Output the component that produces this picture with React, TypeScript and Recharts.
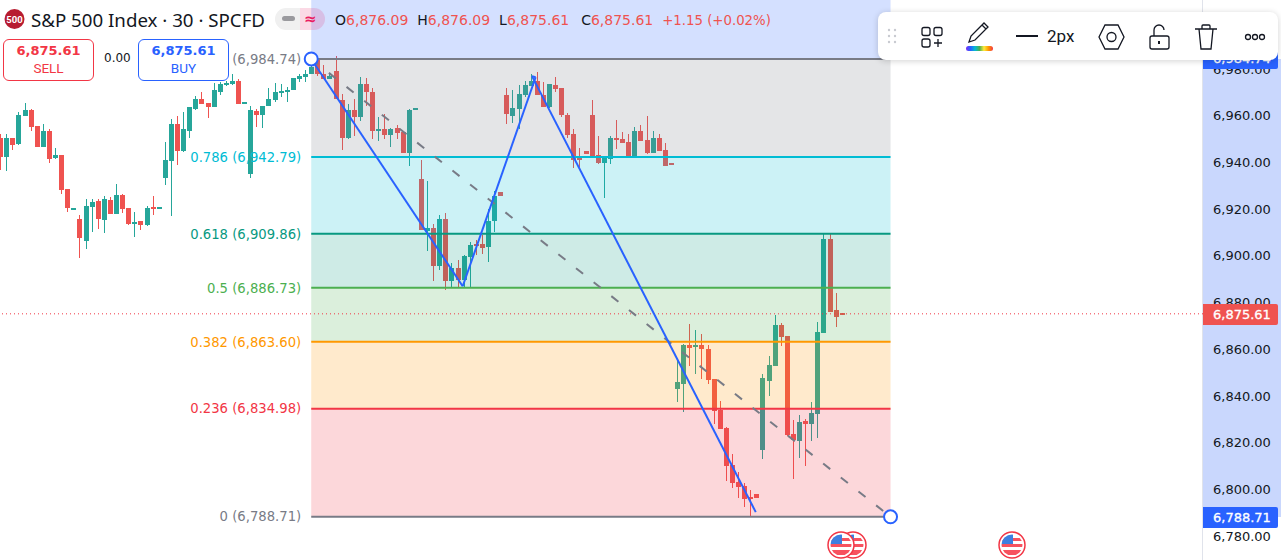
import React from 'react';
import { ComposedChart, Bar, XAxis, YAxis, ReferenceArea, ReferenceLine, ReferenceDot } from 'recharts';

const opens = [6951.0,6942.7,6951.0,6948.2,6960.1,6962.7,6955.9,6947.0,6954.1,6942.3,6943.4,6928.9,6920.5,6916.0,6906.8,6921.3,6923.8,6915.8,6924.3,6918.3,6926.3,6920.8,6913.9,6915.2,6913.5,6921.2,6920.5,6933.7,6941.0,6956.7,6945.2,6954.1,6963.4,6967.8,6965.7,6964.0,6970.8,6974.0,6973.8,6975.5,6965.8,6935.3,6962.3,6960.6,6964.4,6967.0,6970.7,6971.0,6971.3,6976.0,6977.0,6978.1,6984.1,6978.5,6976.0,6979.4,6967.0,6950.7,6962.7,6959.7,6973.8,6970.8,6954.3,6954.6,6952.0,6955.0,6953.3,6944.3,6962.7,6933.2,6910.9,6912.2,6895.9,6916.0,6889.5,6895.1,6889.9,6899.8,6905.4,6905.4,6904.1,6915.2,6927.6,6969.1,6960.1,6963.1,6969.1,6973.0,6975.1,6969.5,6964.0,6973.4,6972.1,6960.6,6952.4,6942.2,6945.2,6960.6,6943.4,6940.0,6941.7,6951.1,6950.3,6949.0,6943.0,6954.1,6949.9,6944.3,6950.7,6945.6,6940.0,6843.3,6845.4,6862.1,6861.4,6862.1,6860.4,6847.6,6834.3,6826.6,6810.8,6803.5,6801.8,6797.1,6798.3,6817.2,6846.7,6853.1,6870.7,6866.0,6824.0,6821.0,6829.6,6828.3,6832.6,6867.3,6907.5,6877.1,6876.09];
const highs = [6952.7,6952.7,6951.0,6962.0,6965.8,6963.4,6955.9,6957.0,6954.6,6946.7,6943.4,6928.9,6920.8,6917.8,6924.9,6924.9,6924.9,6925.9,6925.6,6931.0,6927.0,6920.8,6919.0,6915.2,6921.6,6925.9,6921.2,6949.0,6958.9,6960.1,6962.0,6964.0,6968.7,6970.4,6965.7,6974.5,6975.0,6975.3,6978.4,6976.0,6966.1,6964.8,6963.1,6964.8,6972.5,6974.4,6973.8,6972.7,6976.4,6978.4,6979.8,6983.4,6984.1,6982.0,6978.4,6985.8,6969.6,6965.3,6967.8,6976.8,6976.4,6972.5,6959.7,6961.0,6955.0,6956.3,6954.1,6963.1,6963.6,6941.3,6932.3,6913.9,6917.8,6918.6,6897.2,6898.5,6900.6,6906.2,6907.1,6909.2,6920.3,6928.0,6927.6,6972.1,6971.3,6973.4,6975.5,6978.1,6979.0,6974.7,6973.8,6976.8,6972.1,6961.8,6954.6,6946.4,6945.2,6967.0,6951.6,6942.2,6951.6,6958.4,6953.3,6952.4,6955.4,6956.3,6960.1,6953.7,6952.4,6948.6,6940.0,6856.4,6862.8,6871.1,6868.5,6866.8,6862.1,6847.6,6838.2,6827.0,6815.5,6807.8,6803.1,6800.1,6798.3,6849.7,6857.4,6875.0,6871.5,6866.0,6830.0,6832.2,6830.4,6837.7,6872.0,6909.6,6909.6,6884.4,6876.09];
const lows = [6937.0,6936.7,6945.6,6947.7,6960.1,6954.1,6947.0,6947.0,6940.2,6941.9,6926.7,6919.2,6920.5,6899.5,6903.2,6910.6,6911.8,6910.2,6918.2,6918.3,6918.9,6913.5,6908.5,6911.3,6913.2,6917.8,6920.5,6930.6,6917.5,6939.2,6944.9,6950.9,6962.7,6965.3,6959.3,6964.0,6969.5,6973.3,6973.4,6965.3,6965.8,6933.9,6955.4,6955.0,6964.4,6966.1,6968.4,6966.1,6971.3,6974.8,6974.8,6978.1,6977.3,6976.0,6976.0,6967.4,6945.6,6950.3,6951.6,6958.0,6964.8,6950.3,6949.4,6950.3,6946.9,6950.3,6944.3,6938.7,6962.7,6911.3,6902.4,6889.5,6894.2,6885.7,6886.9,6886.9,6886.9,6886.9,6900.6,6901.1,6897.6,6910.5,6925.9,6956.7,6957.1,6954.9,6968.3,6973.0,6969.1,6964.0,6963.6,6970.8,6959.7,6950.7,6937.9,6938.3,6943.9,6943.0,6939.6,6925.0,6939.6,6946.0,6948.6,6943.0,6943.0,6949.4,6943.9,6944.3,6945.2,6938.7,6939.6,6837.7,6833.5,6853.1,6849.7,6847.6,6845.4,6828.3,6826.2,6803.9,6800.9,6796.6,6792.8,6788.9,6796.6,6813.3,6840.3,6853.1,6861.7,6823.2,6804.8,6813.8,6810.3,6821.0,6822.3,6867.3,6876.2,6869.8,6875.61];
const closes = [6942.7,6951.0,6947.7,6960.6,6962.7,6955.6,6947.0,6954.1,6941.9,6943.4,6928.5,6920.9,6920.8,6908.0,6921.6,6923.3,6916.0,6924.6,6918.3,6926.3,6920.3,6913.9,6914.8,6913.5,6920.8,6920.9,6921.2,6941.3,6956.7,6945.2,6954.6,6964.0,6967.8,6965.3,6964.0,6971.3,6973.8,6974.3,6975.5,6965.3,6966.1,6962.7,6960.6,6964.8,6967.4,6970.8,6971.0,6971.3,6976.4,6977.3,6978.5,6981.2,6978.1,6976.0,6977.3,6967.4,6951.1,6962.7,6959.7,6973.8,6970.4,6953.7,6954.6,6952.0,6954.6,6952.9,6944.3,6962.7,6963.6,6911.3,6912.2,6895.9,6916.0,6889.5,6895.1,6889.9,6900.2,6904.9,6905.1,6903.6,6915.2,6925.9,6925.9,6961.0,6963.6,6969.6,6973.4,6975.1,6969.1,6964.0,6973.8,6971.7,6960.6,6952.0,6941.3,6941.3,6943.9,6943.0,6940.0,6942.2,6950.7,6949.9,6948.6,6943.0,6953.7,6949.4,6944.3,6950.7,6945.2,6938.7,6939.6,6846.3,6862.1,6860.8,6862.1,6860.4,6847.1,6833.9,6826.2,6810.3,6803.1,6801.3,6796.2,6796.8,6796.6,6848.0,6853.6,6870.7,6865.5,6823.6,6821.5,6829.2,6828.3,6833.0,6867.7,6907.5,6876.2,6874.1,6875.61];

const priceTicks = [6780, 6800, 6820, 6840, 6860, 6880, 6900, 6920, 6940, 6960, 6980];

// fib levels, top to bottom
const fibRatios = ['', '0.786', '0.618', '0.5', '0.382', '0.236', '0'];
const fibPrices = [6984.74, 6942.79, 6909.86, 6886.73, 6863.6, 6834.98, 6788.71];
const fibColors = ['#787b86', '#00bcd4', '#089981', '#4caf50', '#ff9800', '#f23645', '#787b86'];
const bandColors = ['#787b86', '#00bcd4', '#089981', '#4caf50', '#ff9800', '#f23645'];
const fibStart = 51;
const fibEnd = 146;

const zigIndex = [51, 75.84, 87.8, 87.2, 123.9];
const zigPrice = [6984.74, 6887.4, 6976.9, 6977.4, 6790.7];

const lastPrice = 6875.61;
const xMin = -0.038;
const xMax = 197.24;
const yMin = 6770.2;
const yMax = 7009.98;

const candles = opens.map((open, i) => ({ i, open, high: highs[i], low: lows[i], close: closes[i] }));

const UP = '#26a69a';
const DOWN = '#ef5350';
const FONT = '"DejaVu Sans", sans-serif';

const money = (v: number) => v.toLocaleString('en-US', { minimumFractionDigits: 2, maximumFractionDigits: 2 });

const Candle = (props: any) => {
  const { x, y, height, payload } = props;
  const { open, high, low, close } = payload;
  const perUnit = height / (high - low);
  const color = close >= open ? UP : DOWN;
  const left = Math.round(x);
  const bodyTop = y + (high - Math.max(open, close)) * perUnit;
  const bodyH = Math.max(Math.abs(open - close) * perUnit, 2);
  return (
    <g shapeRendering="crispEdges">
      <rect x={left + 2} y={y} width={1} height={height} fill={color} />
      <rect x={left} y={bodyTop} width={5} height={bodyH} fill={color} />
    </g>
  );
};

const PriceTag = ({ top, bg, text }: { top: number; bg: string; text: string }) => (
  <div style={{ position: 'absolute', left: 1203, top, width: 75, height: 21, background: bg, color: '#fff', borderRadius: '0 2px 2px 0', font: `13px ${FONT}`, lineHeight: '21px', paddingLeft: 10, boxSizing: 'border-box', WebkitTextStroke: '0.3px #fff' }}>
    {text}
  </div>
);

const TradeBox = ({ left, color, price, side }: { left: number; color: string; price: string; side: string }) => (
  <div style={{ position: 'absolute', left, top: 39, width: 91, height: 42, boxSizing: 'border-box', border: `1px solid ${color}`, borderRadius: 6, background: '#fff', color, textAlign: 'center', fontFamily: FONT }}>
    <div style={{ fontSize: 13, fontWeight: 700, lineHeight: '16px', marginTop: 3 }}>{price}</div>
    <div style={{ fontSize: 13.5, lineHeight: '18px', fontFamily: 'Roboto' }}>{side}</div>
  </div>
);

const Flag = ({ cx, id }: { cx: number; id: string }) => (
  <svg style={{ position: 'absolute', left: cx - 15, top: 530 }} width={30} height={30}>
    <defs>
      <clipPath id={id}><circle cx={15} cy={15} r={10.5} /></clipPath>
    </defs>
    <circle cx={15} cy={15} r={13} fill="#fff" stroke="#f23645" strokeWidth={1.5} />
    <g clipPath={`url(#${id})`}>
      <rect x={4} y={4} width={22} height={22} fill="#fff" />
      <rect x={4} y={14} width={22} height={3} fill="#f7525f" />
      <rect x={4} y={20} width={22} height={5} fill="#f7525f" />
      <rect x={4} y={8} width={22} height={3} fill="#f7525f" />
      <rect x={4} y={4} width={12} height={10} fill="#3d7fe0" />
    </g>
  </svg>
);

const Toolbar = () => (
  <div style={{ position: 'absolute', left: 878, top: 12, width: 400, height: 48, background: '#fff', borderRadius: 8, boxShadow: '0 1px 6px rgba(0,0,0,0.18)' }}>
    <svg width={400} height={48} style={{ position: 'absolute', left: 0, top: 0 }} fill="none" stroke="#131722" strokeWidth={1.3}>
      {[18, 24, 30].flatMap((cy) => [11, 17].map((cx) => <circle key={`${cx}-${cy}`} cx={cx} cy={cy} r={1.2} fill="#c8cad0" stroke="none" />))}
      <rect x={44} y={15.5} width={8} height={8} rx={2} />
      <rect x={56} y={15.5} width={8} height={8} rx={2} />
      <rect x={44} y={27} width={8} height={8} rx={2} />
      <path d="M60 27v8M56 31h8" />
      <path d="M91 30l2-6L106 11l4 4-13 13zM104 13l4 4" />
      <path d="M138 24h22" strokeWidth={2} />
      <path d="M221 25l6-12h13l6 12-6 12h-13z" />
      <circle cx={233.5} cy={25} r={4.5} />
      <rect x={272} y={24} width={19} height={13} rx={2} />
      <path d="M276 24v-6a5 5 0 0 1 10 0" />
      <path d="M281 29v3" strokeWidth={2} />
      <path d="M317 17h22M321 17l2 20h10l2-20M324 17v-3q0-1 1-1h6q1 0 1 1v3" />
      <circle cx={370} cy={25} r={2.5} />
      <circle cx={377} cy={25} r={2.5} />
      <circle cx={384} cy={25} r={2.5} />
    </svg>
    <div style={{ position: 'absolute', left: 88, top: 34, width: 27, height: 5, borderRadius: 3, background: 'linear-gradient(90deg,#7b2ff7,#2962ff,#00bcd4,#4caf50,#ffeb3b,#ff9800,#f23645)' }} />
    <div style={{ position: 'absolute', left: 169, top: 14, font: '17px Roboto', color: '#131722' }}>2px</div>
  </div>
);

const Header = () => (
  <>
    <svg style={{ position: 'absolute', left: 4, top: 9 }} width={24} height={21}>
      <circle cx={10.5} cy={10} r={10} fill="#b71c30" />
      <text x={10.5} y={13.5} textAnchor="middle" fill="#fff" fontSize={9.5} fontWeight={700} fontFamily="Roboto">500</text>
    </svg>
    <div style={{ position: 'absolute', left: 31, top: 9, font: '18.7px "Noto Sans"', color: '#131722', whiteSpace: 'nowrap', lineHeight: '22px' }}>S&amp;P 500 Index · 30 · SPCFD</div>
    <div style={{ position: 'absolute', left: 275, top: 8, width: 25, height: 22, background: '#f0f0f0', borderRadius: '11px 0 0 11px' }}>
      <div style={{ position: 'absolute', left: 7, top: 8, width: 13, height: 5, borderRadius: 3, background: '#9a9a9e' }} />
    </div>
    <div style={{ position: 'absolute', left: 300, top: 8, width: 25, height: 22, background: 'rgba(233,30,99,0.17)', borderRadius: '0 11px 11px 0', color: '#e91e63', font: '700 15px "DejaVu Sans"', lineHeight: '22px', paddingLeft: 4, boxSizing: 'border-box' }}>≈</div>
    <div style={{ position: 'absolute', left: 335, top: 10, font: `14px ${FONT}`, color: DOWN, whiteSpace: 'pre', lineHeight: '20px' }}>
      <span style={{ color: '#131722' }}>O</span>6,876.09  <span style={{ color: '#131722' }}>H</span>6,876.09  <span style={{ color: '#131722' }}>L</span>6,875.61  <span style={{ color: '#131722', marginLeft: 3 }}>C</span>6,875.61  <span style={{ fontSize: 13.3 }}>+1.15 (+0.02%)</span>
    </div>
    <TradeBox left={3} color="#f23645" price="6,875.61" side="SELL" />
    <div style={{ position: 'absolute', left: 104, top: 51, font: `12px ${FONT}`, color: '#131722' }}>0.00</div>
    <TradeBox left={138} color="#2962ff" price="6,875.61" side="BUY" />
  </>
);

const App = () => (
  <div style={{ position: 'absolute', left: 0, top: 0, width: 1281, height: 560, overflow: 'hidden', background: '#fff' }}>
    <div style={{ position: 'absolute', left: 1202, top: 0, width: 1, height: 560, background: '#e0e3eb' }} />
    <div style={{ position: 'absolute', left: 1203, top: 59, width: 78, height: 458, background: '#c9d7fd' }} />
    <div style={{ position: 'absolute', left: 0, top: 0 }}>
      <ComposedChart width={1281} height={560} data={candles} margin={{ top: 0, right: 0, bottom: 0, left: 0 }}>
        <XAxis dataKey="i" type="number" domain={[xMin, xMax]} allowDataOverflow hide />
        <YAxis
          orientation="right"
          width={78}
          domain={[yMin, yMax]}
          allowDataOverflow
          ticks={priceTicks}
          axisLine={false}
          tickLine={false}
          tickSize={0}
          tickMargin={10}
          tickFormatter={money}
          tick={{ fill: '#131722', fontSize: 13, fontFamily: FONT, textAnchor: 'start', dy: -1 }}
        />
        <Bar dataKey={(d: any) => [d.low, d.high]} barSize={5} shape={<Candle />} isAnimationActive={false} />
        <ReferenceArea x1={fibStart} x2={fibEnd} y1={fibPrices[0]} y2={yMax} fill="#2962ff" fillOpacity={0.2} stroke="none" zIndex={600} />
        {bandColors.map((color, k) => (
          <ReferenceArea key={color} x1={fibStart} x2={fibEnd} y1={fibPrices[k]} y2={fibPrices[k + 1]} fill={color} fillOpacity={0.2} stroke="none" zIndex={600} />
        ))}
        <ReferenceLine y={lastPrice} stroke="#f23645" strokeDasharray="1 3" zIndex={610} />
        {fibPrices.map((p, k) => (
          <ReferenceLine
            key={p}
            segment={[{ x: fibStart, y: p }, { x: fibEnd, y: p }]}
            stroke={fibColors[k]}
            strokeWidth={2}
            zIndex={620}
            label={{ value: `${fibRatios[k]} (${money(p)})`.trim(), position: 'left', offset: 10, fill: fibColors[k], fontSize: 13.2, fontFamily: FONT }}
          />
        ))}
        <ReferenceLine
          segment={[{ x: fibStart, y: fibPrices[0] }, { x: fibEnd, y: fibPrices[6] }]}
          stroke="#787b86"
          strokeWidth={2}
          strokeDasharray="9 13.5"
          zIndex={630}
        />
        {zigIndex.slice(1).map((i, k) => (
          <ReferenceLine
            key={i}
            segment={[{ x: zigIndex[k], y: zigPrice[k] }, { x: i, y: zigPrice[k + 1] }]}
            stroke="#2962ff"
            strokeWidth={2}
            zIndex={640}
          />
        ))}
        <ReferenceDot x={fibStart} y={fibPrices[0]} r={6.5} fill="#fff" stroke="#2962ff" strokeWidth={2} zIndex={650} />
        <ReferenceDot x={fibEnd} y={fibPrices[6]} r={6.5} fill="#fff" stroke="#2962ff" strokeWidth={2} zIndex={650} />
      </ComposedChart>
    </div>
    <PriceTag top={48} bg="#2962ff" text="6,984.74" />
    <PriceTag top={304} bg={DOWN} text="6,875.61" />
    <PriceTag top={507} bg="#2962ff" text="6,788.71" />
    <Header />
    <Toolbar />
    <Flag cx={853} id="f2" />
    <Flag cx={841} id="f1" />
    <Flag cx={1012} id="f3" />
  </div>
);

export default App;
